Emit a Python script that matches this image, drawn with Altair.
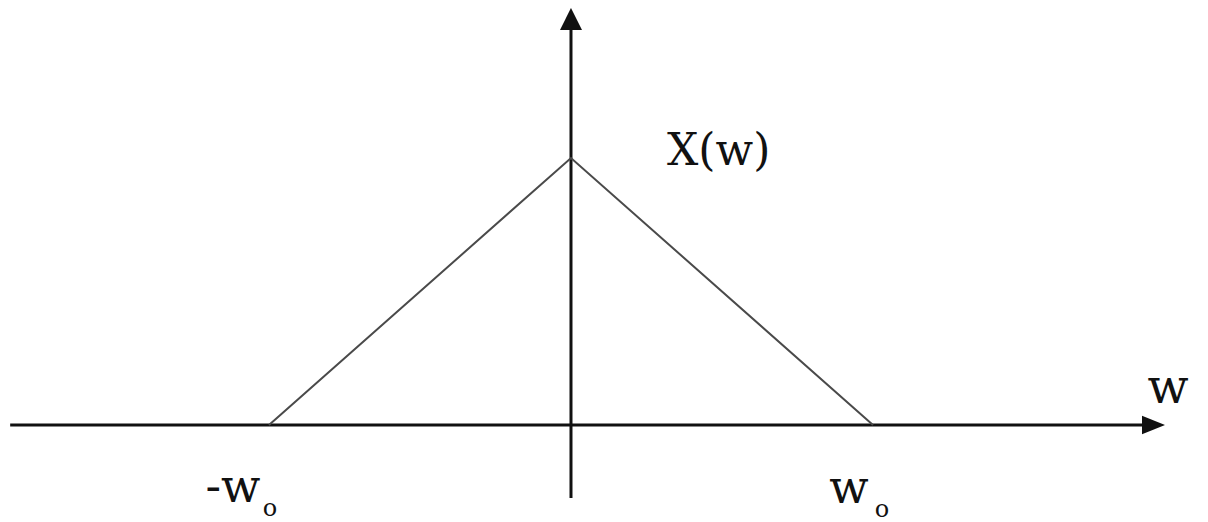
import altair as alt
import pandas as pd

# ---- data ----
w_values = [-1.0, 0.0, 1.0]          # -w0, 0, w0
X_values = [0.0, 1.0, 0.0]           # triangle spectrum X(w)

h_axis_w = [-1.857, 1.93]            # horizontal axis extent (w units)
v_axis_X = [-0.273, 1.50]            # vertical axis extent (X units)
right_tip_w = [1.967]
top_tip_X = [1.562]

x_domain = [-1.8642, 2.0828]
y_domain = [-0.3333, 1.5618]

INK = "#111111"
LINE = "#4a4a4a"
FONT = "DejaVu Serif"

xs = alt.Scale(domain=x_domain, nice=False, zero=False)
ys = alt.Scale(domain=y_domain, nice=False, zero=False)

tri = pd.DataFrame({"w": w_values, "X": X_values, "order": [0, 1, 2]})

triangle = alt.Chart(tri).mark_line(color=LINE, strokeWidth=2).encode(
    x=alt.X("w:Q", scale=xs, axis=None),
    y=alt.Y("X:Q", scale=ys, axis=None),
    order="order:Q",
)

hax = alt.Chart(pd.DataFrame({"a": [h_axis_w[0]], "b": [h_axis_w[1]], "y": [0.0]})).mark_rule(
    color=INK, strokeWidth=3
).encode(x=alt.X("a:Q", scale=xs, axis=None), x2="b:Q", y=alt.Y("y:Q", scale=ys, axis=None))

vax = alt.Chart(pd.DataFrame({"a": [v_axis_X[0]], "b": [v_axis_X[1]], "x": [0.0]})).mark_rule(
    color=INK, strokeWidth=3
).encode(y=alt.Y("a:Q", scale=ys, axis=None), y2="b:Q", x=alt.X("x:Q", scale=xs, axis=None))

right_arrow = alt.Chart(pd.DataFrame({"w": right_tip_w, "X": [0.0]})).mark_point(
    shape="M0,0L-2,-0.8L-2,0.8Z", size=529, filled=True, color=INK, opacity=1
).encode(x=alt.X("w:Q", scale=xs, axis=None), y=alt.Y("X:Q", scale=ys, axis=None))

top_arrow = alt.Chart(pd.DataFrame({"w": [0.0], "X": top_tip_X})).mark_point(
    shape="M0,0L1,2L-1,2Z", size=484, filled=True, color=INK, opacity=1
).encode(x=alt.X("w:Q", scale=xs, axis=None), y=alt.Y("X:Q", scale=ys, axis=None))


def label(w, X, text, size, dx, dy, align="center"):
    return alt.Chart(pd.DataFrame({"w": [w], "X": [X], "t": [text]})).mark_text(
        font=FONT, fontSize=size, color="#111111", align=align, baseline="alphabetic",
        dx=dx, dy=dy
    ).encode(x=alt.X("w:Q", scale=xs, axis=None), y=alt.Y("X:Q", scale=ys, axis=None), text="t:N")


labels = [
    label(0.0, 1.0, "X(w)", 44, 96, 7, align="left"),
    label(right_tip_w[0], 0.0, "w", 48, 3, -22),
    label(w_values[0], 0.0, "-w", 46, -36, 77),
    label(w_values[0], 0.0, "o", 24, 1, 91),
    label(w_values[2], 0.0, "w", 46, -24, 78),
    label(w_values[2], 0.0, "o", 24, 9, 92),
]

chart = alt.layer(hax, vax, triangle, right_arrow, top_arrow, *labels).properties(
    width=1192, height=506,
    padding={"left": 0, "top": 0, "right": 0, "bottom": 20},
    autosize=alt.AutoSizeParams(type="none"),
    background="white",
).configure_view(stroke=None)

chart.save("out.html", embed_options={"renderer": "svg", "actions": False})
